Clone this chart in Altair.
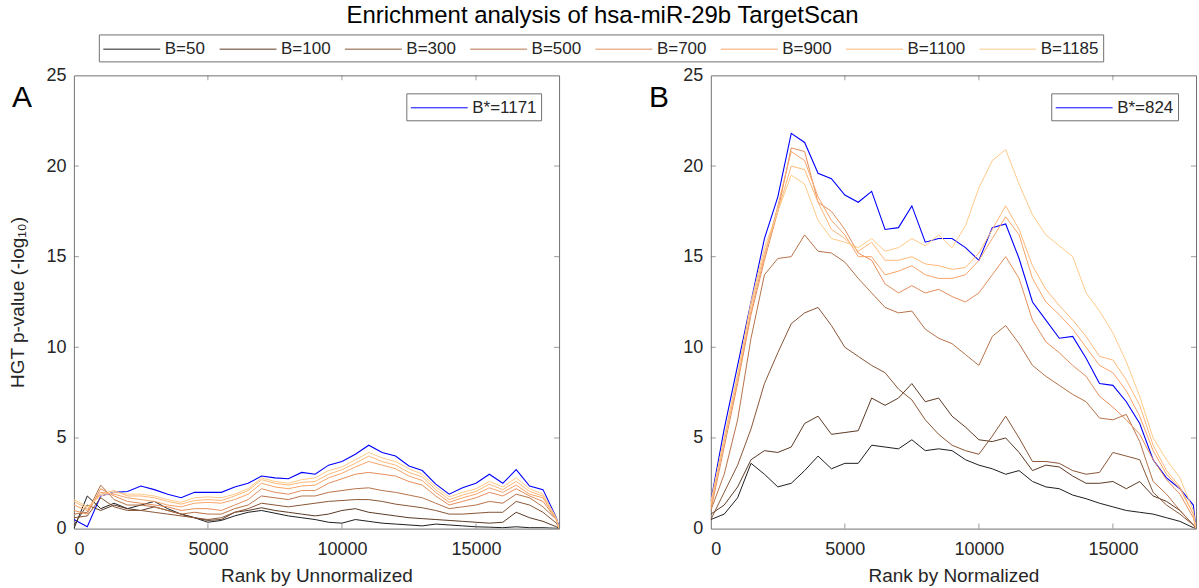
import altair as alt
import pandas as pd

# ---------------- data ----------------
RANK = list(range(0, 18001, 500)) + [18100]

SERIES = ["B=50", "B=100", "B=300", "B=500", "B=700", "B=900", "B=1100", "B=1185"]
COLORS = ["#1e1e1e", "#5b3924", "#895536", "#b67248", "#e48e5b", "#f7a468", "#ffb877", "#ffca88"]
BLUE = "#0000ff"

# Panel A: rank by unnormalized
A_BSTAR = [0.5, 0.1, 1.8, 2.0, 2.05, 2.35, 2.15, 1.9, 1.7, 2.0, 2.0, 2.0, 2.3, 2.5, 2.9, 2.8, 2.75, 3.1, 3.0,
           3.5, 3.7, 4.1, 4.6, 4.2, 4.0, 3.45, 3.2, 2.45, 1.9, 2.25, 2.5, 3.0, 2.5, 3.25, 2.35, 2.15, 0.6, 0.1]
A_B1185 = [1.6, 1.2, 1.8, 2.0, 1.9, 1.9, 1.8, 1.6, 1.45, 1.7, 1.75, 1.7, 1.9, 2.2, 2.8, 2.6, 2.5, 2.7, 2.8,
           3.2, 3.4, 3.8, 4.2, 3.9, 3.7, 3.3, 3.0, 2.3, 1.75, 2.0, 2.2, 2.6, 2.3, 2.8, 2.2, 1.9, 0.6, 0.0]
A_B1100 = [1.5, 1.1, 1.9, 2.1, 1.8, 1.8, 1.7, 1.5, 1.35, 1.55, 1.6, 1.55, 1.8, 2.1, 2.7, 2.5, 2.4, 2.55, 2.6,
           3.0, 3.25, 3.6, 4.0, 3.7, 3.5, 3.1, 2.85, 2.15, 1.6, 1.85, 2.05, 2.45, 2.15, 2.6, 2.05, 1.8, 0.5, 0.0]
A_B900 = [1.3, 1.0, 2.0, 1.9, 1.7, 1.6, 1.5, 1.3, 1.2, 1.4, 1.45, 1.4, 1.6, 1.9, 2.5, 2.3, 2.2, 2.35, 2.4,
          2.8, 3.05, 3.4, 3.7, 3.5, 3.3, 2.9, 2.65, 2.0, 1.45, 1.7, 1.9, 2.25, 2.0, 2.4, 1.9, 1.7, 0.5, 0.0]
A_B700 = [1.0, 0.8, 2.2, 1.8, 1.5, 1.4, 1.3, 1.2, 1.0, 1.1, 1.1, 1.0, 1.3, 1.6, 2.2, 2.0, 1.9, 2.1, 2.1,
          2.5, 2.75, 3.0, 3.1, 3.0, 2.9, 2.6, 2.4, 1.8, 1.3, 1.5, 1.7, 2.0, 1.8, 2.2, 1.8, 1.5, 0.5, 0.0]
A_B500 = [0.8, 0.9, 2.4, 1.6, 1.3, 1.3, 1.2, 1.0, 0.8, 0.9, 0.8, 0.8, 1.1, 1.3, 1.8, 1.7, 1.6, 1.8, 1.8,
          2.0, 2.1, 2.2, 2.25, 2.1, 2.0, 1.85, 1.7, 1.4, 1.1, 1.2, 1.3, 1.5, 1.4, 1.9, 1.7, 1.2, 0.5, 0.0]
A_B300 = [0.6, 0.7, 1.7, 1.2, 1.0, 1.0, 0.9, 0.8, 0.7, 0.6, 0.5, 0.6, 0.9, 1.1, 1.4, 1.3, 1.2, 1.3, 1.4,
          1.5, 1.55, 1.6, 1.6, 1.5, 1.35, 1.25, 1.15, 1.0, 0.8, 0.8, 0.85, 0.9, 0.9, 1.5, 1.3, 0.9, 0.3, 0.0]
A_B100 = [0.2, 1.3, 1.0, 1.3, 1.1, 1.0, 1.2, 1.0, 0.8, 0.6, 0.45, 0.5, 0.9, 1.0, 1.15, 1.0, 0.9, 0.8, 0.7,
          0.8, 1.0, 1.1, 0.9, 0.8, 0.7, 0.6, 0.55, 0.5, 0.45, 0.4, 0.35, 0.3, 0.35, 0.9, 0.6, 0.4, 0.1, 0.0]
A_B50 = [0.0, 1.8, 1.1, 1.4, 1.1, 1.3, 1.5, 1.1, 0.8, 0.6, 0.35, 0.45, 0.7, 0.9, 1.0, 0.85, 0.7, 0.6, 0.5,
         0.35, 0.3, 0.5, 0.4, 0.3, 0.25, 0.2, 0.15, 0.25, 0.2, 0.15, 0.1, 0.08, 0.05, 0.1, 0.05, 0.05, 0.02, 0.0]

# Panel B: rank by normalized
B_BSTAR = [1.5, 5.5, 9.0, 12.5, 16.0, 18.3, 21.8, 21.3, 19.6, 19.3, 18.4, 18.0, 18.6, 16.5, 16.6, 17.8, 15.8,
           16.0, 16.0, 15.5, 14.8, 16.6, 16.8, 14.9, 12.5, 11.5, 10.5, 10.6, 9.4, 8.0, 7.9, 7.0, 5.8, 3.8, 2.8,
           2.2, 1.3, 0.0]
B_B1185 = [1.5, 5.0, 8.5, 12.5, 15.5, 17.5, 19.5, 19.0, 17.0, 16.0, 15.8, 15.5, 16.0, 15.3, 15.5, 16.0, 15.6,
           16.2, 15.5, 16.7, 18.8, 20.3, 20.9, 19.0, 17.3, 16.2, 15.6, 15.0, 13.0, 12.0, 10.8, 9.2, 7.3, 5.0, 3.8,
           2.8, 1.0, 0.0]
B_B1100 = [1.3, 5.0, 8.5, 12.3, 15.2, 17.5, 20.0, 19.8, 18.0, 16.5, 16.0, 15.3, 15.8, 14.8, 14.8, 15.0, 14.6,
           14.5, 14.3, 14.4, 15.2, 16.5, 17.8, 16.5, 14.5, 13.2, 12.3, 11.5, 10.6, 9.5, 9.3, 8.2, 6.8, 4.6, 3.2,
           2.3, 0.8, 0.0]
B_B900 = [1.2, 4.8, 8.2, 12.0, 15.0, 17.8, 20.8, 20.3, 18.3, 17.0, 16.2, 15.0, 15.0, 14.0, 14.2, 14.5, 14.0,
          13.8, 13.8, 14.0, 14.8, 16.0, 17.2, 16.2, 13.8, 12.5, 11.8, 11.0, 10.0, 9.0, 8.6, 7.6, 6.2, 4.3, 3.0,
          2.2, 0.8, 0.0]
B_B700 = [1.0, 4.5, 8.0, 11.8, 14.8, 17.5, 21.0, 20.8, 18.0, 17.5, 16.5, 15.2, 14.8, 13.5, 13.0, 13.4, 13.0,
          13.2, 12.8, 12.5, 13.0, 14.0, 15.0, 13.8, 11.5, 10.3, 9.7, 9.0, 8.4, 7.3, 6.7, 6.0, 5.2, 3.8, 2.7,
          1.9, 0.6, 0.0]
B_B500 = [1.0, 3.0, 6.0, 10.5, 14.0, 14.9, 15.0, 16.2, 15.3, 15.2, 14.7, 13.8, 13.0, 12.2, 11.9, 12.0, 11.0,
          10.5, 10.2, 9.6, 9.0, 10.6, 11.2, 10.2, 9.0, 8.4, 7.9, 7.4, 7.0, 6.1, 6.0, 6.3, 4.8, 2.6, 1.9, 1.0,
          0.2, 0.0]
B_B300 = [0.5, 2.0, 3.5, 5.5, 8.0, 9.7, 11.3, 11.9, 12.2, 11.2, 10.0, 9.5, 9.0, 8.6, 7.7, 7.1, 6.0, 5.2, 4.6,
          4.3, 4.1, 5.1, 6.2, 5.0, 3.7, 3.7, 3.6, 3.2, 3.0, 3.1, 4.2, 4.0, 3.8, 2.0, 1.3, 0.8, 0.2, 0.0]
B_B100 = [0.8, 1.3, 2.3, 3.8, 4.3, 4.2, 4.5, 5.8, 6.2, 5.2, 5.3, 5.4, 7.2, 6.8, 7.2, 8.0, 7.0, 7.2, 6.2, 5.6,
          4.9, 4.8, 5.0, 4.2, 3.2, 3.5, 3.4, 2.9, 2.5, 2.5, 2.6, 2.2, 2.6, 1.8, 1.5, 1.0, 0.2, 0.0]
B_B50 = [0.5, 0.8, 1.7, 3.6, 3.0, 2.3, 2.5, 3.2, 4.0, 3.3, 3.6, 3.6, 4.6, 4.5, 4.4, 4.9, 4.3, 4.4, 4.3, 3.8,
         3.5, 3.3, 3.0, 3.2, 2.6, 2.3, 2.2, 1.85, 1.65, 1.4, 1.2, 1.0, 0.9, 0.8, 0.6, 0.4, 0.05, 0.0]

X_TICKS = [5000, 10000, 15000]
Y_TICKS = [5, 10, 15, 20]
X_MAX = 18100
Y_MAX = 25

FONT = "Liberation Sans"
TXT = "#262626"
FRAME = "#707070"

# legend line sample: a wide horizontal path drawn 57 px long while the entry stays 20 px tall
LEG_PATH = "M-2.85,0H2.85"
LEG_SIZE = 400


def long_df(columns):
    rows = []
    for name, vals in columns:
        for r, v in zip(RANK, vals):
            rows.append({"rank": r, "value": v, "series": name})
    return pd.DataFrame(rows)


def legend_common():
    return dict(title=None, symbolType=LEG_PATH, symbolSize=LEG_SIZE, symbolStrokeWidth=1,
                symbolOffset=18.5, labelOffset=22.5, labelFontSize=17, labelFont=FONT,
                labelColor=TXT, strokeColor=FRAME, fillColor="white")


def panel(copper_cols, bstar_vals, bstar_label, xtitle, ytitle, letter):
    x_enc = alt.X("rank:Q", scale=alt.Scale(domain=[0, X_MAX], nice=False, zero=False),
                  axis=alt.Axis(values=[0, 5000, 10000, 15000], title=xtitle, grid=False,
                                ticks=False, domain=False, format="d", labelPadding=12,
                                titlePadding=8))
    y_enc = alt.Y("value:Q", scale=alt.Scale(domain=[0, Y_MAX], nice=False),
                  axis=alt.Axis(values=[0, 5, 10, 15, 20, 25], title=ytitle, grid=False,
                                ticks=False, domain=False, titlePadding=18, labelPadding=8))

    copper = long_df(copper_cols)
    blue = long_df([(bstar_label, bstar_vals)])

    blue_layer = alt.Chart(blue).mark_line(strokeWidth=1.1, clip=True).encode(
        x=x_enc, y=y_enc,
        stroke=alt.Stroke("series:N", scale=alt.Scale(domain=[bstar_label], range=[BLUE]),
                          legend=alt.Legend(orient="top-right", offset=18, padding=4,
                                            symbolStrokeColor=BLUE, **legend_common())),
    )
    copper_layer = alt.Chart(copper).mark_line(strokeWidth=1, clip=True).encode(
        x=x_enc, y=y_enc,
        color=alt.Color("series:N", scale=alt.Scale(domain=SERIES, range=COLORS),
                        sort=SERIES,
                        legend=alt.Legend(orient="none", legendX=25, legendY=-41,
                                          direction="horizontal", columns=8, padding=4,
                                          columnPadding=11.5, **legend_common())),
        detail="series:N",
    )

    xt = pd.DataFrame({"rank": X_TICKS * 2, "value": [0] * 3 + [Y_MAX] * 3})
    yt = pd.DataFrame({"rank": [0] * 4 + [X_MAX] * 4, "value": Y_TICKS * 2})
    xt_bot = alt.Chart(xt.iloc[:3]).mark_tick(orient="vertical", size=5, thickness=1,
                                              yOffset=-2.5, color=FRAME).encode(x=x_enc, y=y_enc)
    xt_top = alt.Chart(xt.iloc[3:]).mark_tick(orient="vertical", size=5, thickness=1,
                                              yOffset=2.5, color=FRAME).encode(x=x_enc, y=y_enc)
    yt_left = alt.Chart(yt.iloc[:4]).mark_tick(orient="horizontal", size=5, thickness=1,
                                               xOffset=2.5, color=FRAME).encode(x=x_enc, y=y_enc)
    yt_right = alt.Chart(yt.iloc[4:]).mark_tick(orient="horizontal", size=5, thickness=1,
                                                xOffset=-2.5, color=FRAME).encode(x=x_enc, y=y_enc)

    label = alt.Chart(pd.DataFrame({"t": [letter]})).mark_text(
        fontSize=30, font=FONT, color="black", align="center", baseline="middle"
    ).encode(x=alt.value(-52), y=alt.value(23), text="t:N")

    return alt.layer(blue_layer, copper_layer, xt_bot, xt_top, yt_left, yt_right, label).properties(
        width=486, height=454
    )


pa = panel([("B=50", A_B50), ("B=100", A_B100), ("B=300", A_B300), ("B=500", A_B500),
            ("B=700", A_B700), ("B=900", A_B900), ("B=1100", A_B1100), ("B=1185", A_B1185)],
           A_BSTAR, "B*=1171", "Rank by Unnormalized", "HGT p-value (-log\u2081\u2080)", "A")
pb = panel([("B=50", B_B50), ("B=100", B_B100), ("B=300", B_B300), ("B=500", B_B500),
            ("B=700", B_B700), ("B=900", B_B900), ("B=1100", B_B1100), ("B=1185", B_B1185)],
           B_BSTAR, "B*=824", "Rank by Normalized", None, "B")

chart = alt.hconcat(pa, pb, spacing=88).resolve_scale(
    color="shared", stroke="independent", x="independent", y="independent"
).resolve_legend(color="shared", stroke="independent").properties(
    title=alt.TitleParams("Enrichment analysis of hsa-miR-29b TargetScan", fontSize=24, font=FONT,
                          fontWeight="normal", color="black", anchor="middle", offset=6),
    padding={"left": 8, "top": 3, "right": 2, "bottom": 2},
).configure_view(stroke=FRAME, strokeWidth=1).configure_axis(
    labelFont=FONT, labelFontSize=18, labelColor=TXT,
    titleFont=FONT, titleFontSize=19, titleColor=TXT, titleFontWeight="normal",
)

chart.save("out.html", embed_options={"renderer": "svg", "actions": False})
